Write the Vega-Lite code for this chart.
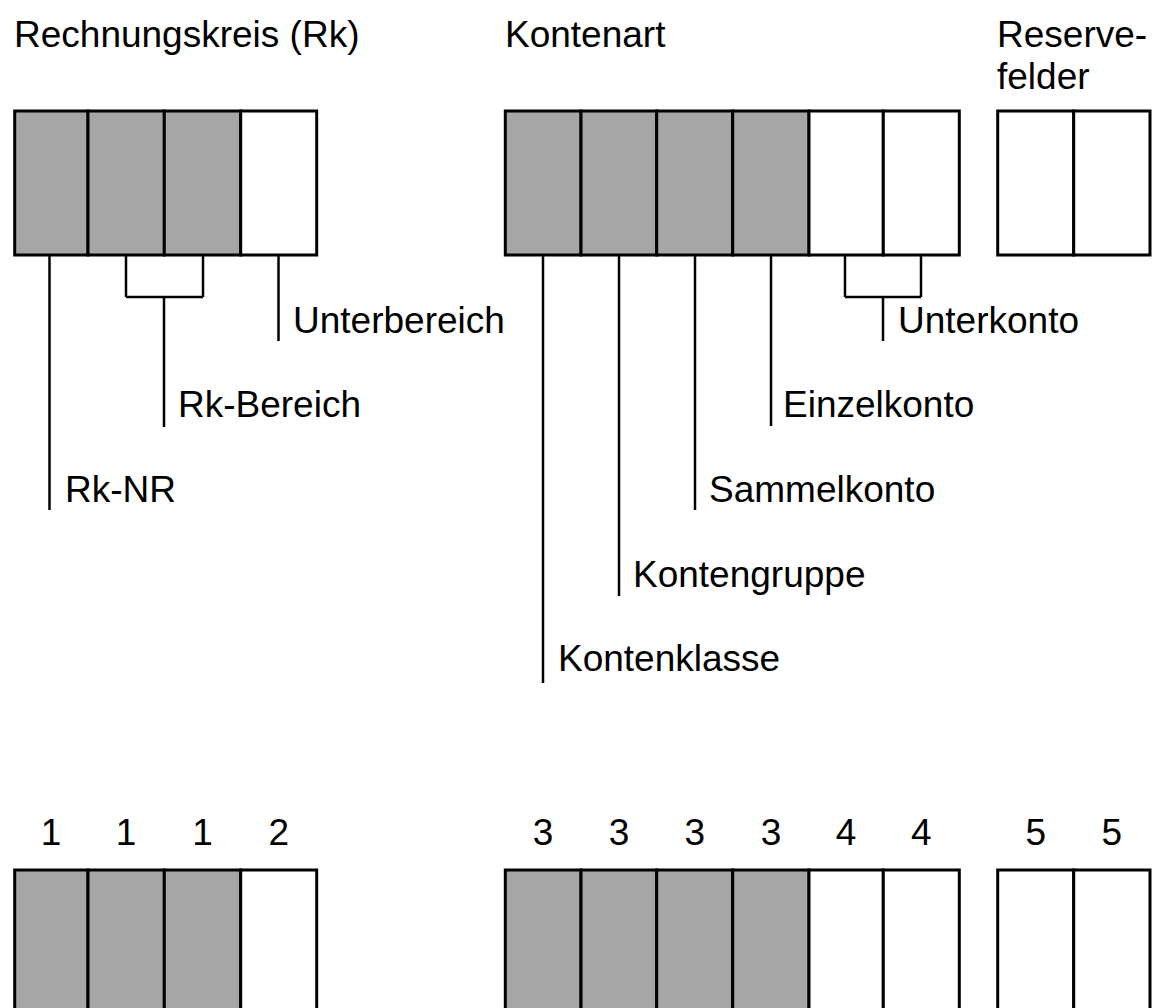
{
  "$schema": "https://vega.github.io/schema/vega-lite/v6.json",
  "autosize": {"type": "none"},
  "width": 1153,
  "height": 1008,
  "padding": 0,
  "background": "white",
  "config": {"view": {"stroke": null}},
  "datasets": {
    "cells": [
      {"x": 14.7, "x2": 88, "y": 111, "y2": 255, "fill": "gray"},
      {"x": 88, "x2": 164.3, "y": 111, "y2": 255, "fill": "gray"},
      {"x": 164.3, "x2": 240.7, "y": 111, "y2": 255, "fill": "gray"},
      {"x": 240.7, "x2": 316.7, "y": 111, "y2": 255, "fill": "white"},
      {"x": 505.3, "x2": 581, "y": 111, "y2": 255, "fill": "gray"},
      {"x": 581, "x2": 656.7, "y": 111, "y2": 255, "fill": "gray"},
      {"x": 656.7, "x2": 732.7, "y": 111, "y2": 255, "fill": "gray"},
      {"x": 732.7, "x2": 809, "y": 111, "y2": 255, "fill": "gray"},
      {"x": 809, "x2": 883.3, "y": 111, "y2": 255, "fill": "white"},
      {"x": 883.3, "x2": 959.3, "y": 111, "y2": 255, "fill": "white"},
      {"x": 997.7, "x2": 1073.7, "y": 111, "y2": 255, "fill": "white"},
      {"x": 1073.7, "x2": 1150, "y": 111, "y2": 255, "fill": "white"},
      {"x": 14.7, "x2": 88, "y": 870, "y2": 1030, "fill": "gray"},
      {"x": 88, "x2": 164.3, "y": 870, "y2": 1030, "fill": "gray"},
      {"x": 164.3, "x2": 240.7, "y": 870, "y2": 1030, "fill": "gray"},
      {"x": 240.7, "x2": 316.7, "y": 870, "y2": 1030, "fill": "white"},
      {"x": 505.3, "x2": 581, "y": 870, "y2": 1030, "fill": "gray"},
      {"x": 581, "x2": 656.7, "y": 870, "y2": 1030, "fill": "gray"},
      {"x": 656.7, "x2": 732.7, "y": 870, "y2": 1030, "fill": "gray"},
      {"x": 732.7, "x2": 809, "y": 870, "y2": 1030, "fill": "gray"},
      {"x": 809, "x2": 883.3, "y": 870, "y2": 1030, "fill": "white"},
      {"x": 883.3, "x2": 959.3, "y": 870, "y2": 1030, "fill": "white"},
      {"x": 997.7, "x2": 1073.7, "y": 870, "y2": 1030, "fill": "white"},
      {"x": 1073.7, "x2": 1150, "y": 870, "y2": 1030, "fill": "white"}
    ],
    "lines": [
      {"x": 49.5, "x2": 49.5, "y": 255, "y2": 510},
      {"x": 126, "x2": 126, "y": 255, "y2": 297},
      {"x": 203, "x2": 203, "y": 255, "y2": 297},
      {"x": 126, "x2": 203, "y": 297, "y2": 297},
      {"x": 164, "x2": 164, "y": 297, "y2": 427},
      {"x": 278.5, "x2": 278.5, "y": 255, "y2": 341},
      {"x": 543, "x2": 543, "y": 255, "y2": 683},
      {"x": 619, "x2": 619, "y": 255, "y2": 596},
      {"x": 695, "x2": 695, "y": 255, "y2": 510},
      {"x": 771, "x2": 771, "y": 255, "y2": 426},
      {"x": 845, "x2": 845, "y": 255, "y2": 297},
      {"x": 921, "x2": 921, "y": 255, "y2": 297},
      {"x": 845, "x2": 921, "y": 297, "y2": 297},
      {"x": 883, "x2": 883, "y": 297, "y2": 341}
    ],
    "labels": [
      {"x": 14, "y": 47, "text": "Rechnungskreis (Rk)"},
      {"x": 505, "y": 47, "text": "Kontenart"},
      {"x": 997, "y": 47, "text": "Reserve-"},
      {"x": 997, "y": 89, "text": "felder"},
      {"x": 293, "y": 333, "text": "Unterbereich"},
      {"x": 178, "y": 417, "text": "Rk-Bereich"},
      {"x": 65, "y": 502, "text": "Rk-NR"},
      {"x": 898, "y": 333, "text": "Unterkonto"},
      {"x": 783, "y": 417, "text": "Einzelkonto"},
      {"x": 709, "y": 502, "text": "Sammelkonto"},
      {"x": 633, "y": 587, "text": "Kontengruppe"},
      {"x": 558, "y": 671, "text": "Kontenklasse"}
    ],
    "digits": [
      {"x": 51, "text": "1"},
      {"x": 126, "text": "1"},
      {"x": 202.5, "text": "1"},
      {"x": 278.7, "text": "2"},
      {"x": 543, "text": "3"},
      {"x": 619, "text": "3"},
      {"x": 694.7, "text": "3"},
      {"x": 771, "text": "3"},
      {"x": 846, "text": "4"},
      {"x": 921.3, "text": "4"},
      {"x": 1035.7, "text": "5"},
      {"x": 1111.8, "text": "5"}
    ]
  },
  "layer": [
    {
      "data": {"name": "cells"},
      "mark": {"type": "rect", "stroke": "black", "strokeWidth": 3},
      "encoding": {
        "x": {"field": "x", "type": "quantitative", "scale": {"domain": [0, 1153], "nice": false, "zero": false}, "axis": null},
        "x2": {"field": "x2"},
        "y": {"field": "y", "type": "quantitative", "scale": {"domain": [0, 1008], "nice": false, "zero": false, "reverse": true}, "axis": null},
        "y2": {"field": "y2"},
        "fill": {"field": "fill", "type": "nominal", "scale": {"domain": ["gray", "white"], "range": ["#a6a6a6", "#ffffff"]}, "legend": null}
      }
    },
    {
      "data": {"name": "lines"},
      "mark": {"type": "rule", "stroke": "black", "strokeWidth": 2.5},
      "encoding": {
        "x": {"field": "x", "type": "quantitative"},
        "x2": {"field": "x2"},
        "y": {"field": "y", "type": "quantitative"},
        "y2": {"field": "y2"}
      }
    },
    {
      "data": {"name": "labels"},
      "mark": {"type": "text", "align": "left", "baseline": "alphabetic", "font": "Liberation Sans", "fontSize": 37, "color": "black"},
      "encoding": {
        "x": {"field": "x", "type": "quantitative"},
        "y": {"field": "y", "type": "quantitative"},
        "text": {"field": "text"}
      }
    },
    {
      "data": {"name": "digits"},
      "mark": {"type": "text", "align": "center", "baseline": "alphabetic", "font": "Liberation Sans", "fontSize": 37, "color": "black"},
      "encoding": {
        "x": {"field": "x", "type": "quantitative"},
        "y": {"datum": 845, "type": "quantitative"},
        "text": {"field": "text"}
      }
    }
  ]
}
